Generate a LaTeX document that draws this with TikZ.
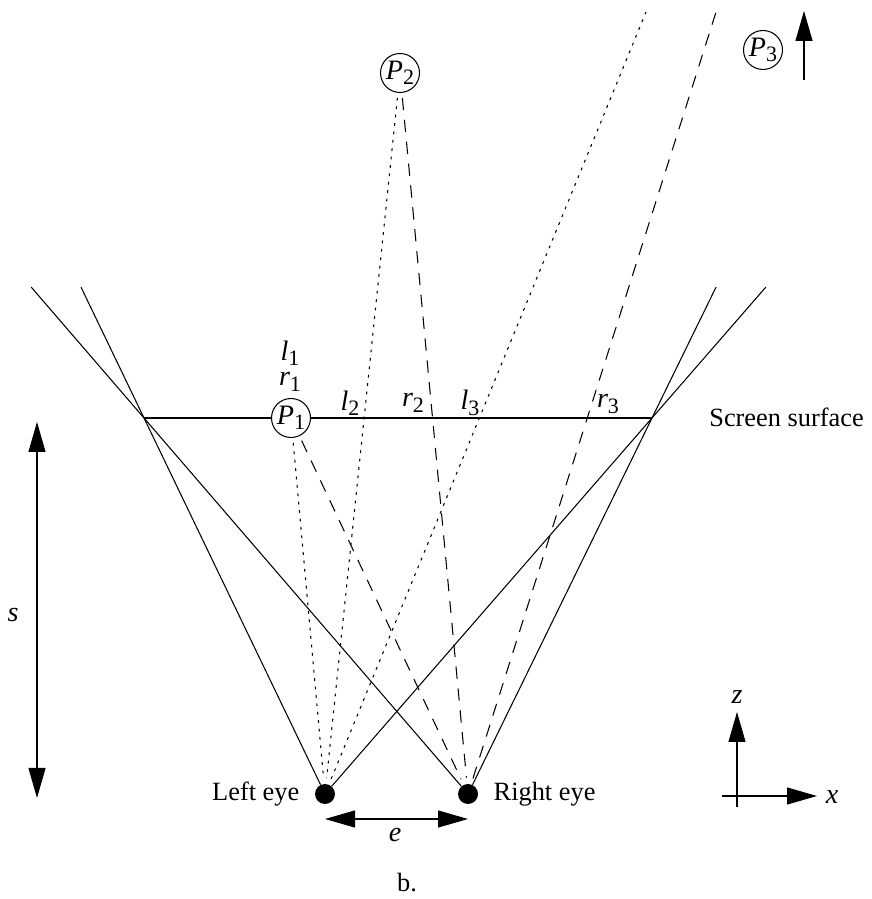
\documentclass[tikz,border=0pt]{standalone}
\usepackage{fontspec}
\setmainfont{Liberation Serif}
\usetikzlibrary{arrows.meta,calc,positioning}

\definecolor{stereoInk}{RGB}{0,0,0}
\newcommand{\ptlabel}[2]{{\fontsize{16}{17}\selectfont\itshape #1}\raisebox{-.45ex}{\fontsize{12.5}{13}\selectfont #2}}

\begin{document}
\begin{tikzpicture}[x=1cm,y=1cm,
      font=\fontsize{15}{17}\selectfont,
      ray/.style={draw=stereoInk, line width=.6pt},
      leftray/.style={ray, dash pattern=on 1.6pt off 3.2pt},
      rightray/.style={ray, dash pattern=on 7pt off 5.5pt},
      point/.style={circle, draw=stereoInk, line width=.6pt,
        inner sep=0pt, minimum size=.78cm},
      eye/.style={circle, fill=stereoInk, inner sep=0pt, minimum size=.4cm},
      caption/.style={inner sep=0pt, text=stereoInk},
      measure/.style={line width=.6pt,
        {Triangle[length=.6cm,width=.34cm]}-{Triangle[length=.6cm,width=.34cm]}},
      axis/.style={line width=.6pt, -{Triangle[length=.6cm,width=.34cm]}}]
      \useasboundingbox (0,0) rectangle (17.44,17.98);

      % eyes and screen
      \node[eye] (leye) at (6.50,2.10) {};
      \node[eye] (reye) at (9.36,2.10) {};
      \node[caption, left=.3cm of leye] (leyetext) {Left eye};
      \node[caption, right=.3cm of reye] (reyetext) {Right eye};
      \coordinate (scrL) at (2.88,9.62);
      \coordinate (scrR) at (13.04,9.62);
      \node[caption, anchor=west] (scrtext) at (14.18,9.64) {Screen surface};

      % points
      \node[point] (p1) at (5.82,9.62) {\ptlabel{P}{1}};
      \node[point] (p2) at (8.00,16.52) {\ptlabel{P}{2}};
      \node[point] (p3) at (15.26,16.98) {\ptlabel{P}{3}};

      % field of view
      \coordinate (lfarL) at ($(leye)!1.348!(scrL)$);
      \coordinate (lfarR) at ($(leye)!1.348!(scrR)$);
      \coordinate (rfarL) at ($(reye)!1.348!(scrL)$);
      \coordinate (rfarR) at ($(reye)!1.348!(scrR)$);
      \draw[ray] (leye) -- (lfarL);
      \draw[ray] (leye) -- (lfarR);
      \draw[ray] (reye) -- (rfarL);
      \draw[ray] (reye) -- (rfarR);
      \draw[ray] (scrL) -- (p1) -- (scrR);

      % rays to the points
      \draw[leftray, shorten <=.1cm, shorten >=.12cm] (p1) -- (leye);
      \draw[rightray, shorten <=.1cm, shorten >=.12cm] (p1) -- (reye);
      \draw[leftray, shorten <=.1cm, shorten >=.12cm] (p2) -- (leye);
      \draw[rightray, shorten <=.1cm, shorten >=.12cm] (p2) -- (reye);
      \coordinate (l3top) at (12.92,17.74);
      \coordinate (r3top) at (14.34,17.80);
      \draw[leftray, shorten <=.12cm] (leye) -- (l3top);
      \draw[rightray, shorten <=.12cm] (reye) -- (r3top);

      % screen images
      \node[caption] (l1) at (5.80,10.92) {\ptlabel{l}{1}};
      \node[caption] (r1) at (5.80,10.34) {\ptlabel{r}{1}};
      \node[caption] (l2) at (7.00,9.92) {\ptlabel{l}{2}};
      \node[caption] (r2) at (8.26,9.92) {\ptlabel{r}{2}};
      \node[caption] (l3) at (9.40,9.92) {\ptlabel{l}{3}};
      \node[caption] (r3) at (12.16,9.90) {\ptlabel{r}{3}};

      % P3 at infinity
      \coordinate (p3foot) at (16.08,16.38);
      \coordinate (p3head) at (16.08,17.76);
      \draw[axis] (p3foot) -- (p3head);

      % distances
      \coordinate (stop) at (0.74,9.54);
      \coordinate (sbot) at (0.74,2.02);
      \draw[measure] (sbot) -- (stop);
      \node[caption] (stext) at (0.26,5.68) {\fontsize{16}{17}\selectfont\itshape s};
      \coordinate (eleft) at ($(leye)+(0,-.5)$);
      \coordinate (eright) at ($(reye)+(0,-.5)$);
      \draw[measure] (eleft) -- (eright);
      \node[caption] (etext) at (7.90,1.28) {\fontsize{16}{17}\selectfont\itshape e};

      % axes
      \coordinate (ax0) at (14.74,1.84);
      \coordinate (axz) at (14.74,3.74);
      \coordinate (ax1) at (14.44,2.06);
      \coordinate (axx) at (16.34,2.06);
      \draw[axis] (ax0) -- (axz);
      \draw[axis] (ax1) -- (axx);
      \node[caption] (ztext) at (14.74,4.04) {\fontsize{16}{17}\selectfont\itshape z};
      \node[caption] (xtext) at (16.64,2.04) {\fontsize{16}{17}\selectfont\itshape x};

      \node[caption] (btext) at (8.14,0.32) {b.};
    \end{tikzpicture}
\end{document}
